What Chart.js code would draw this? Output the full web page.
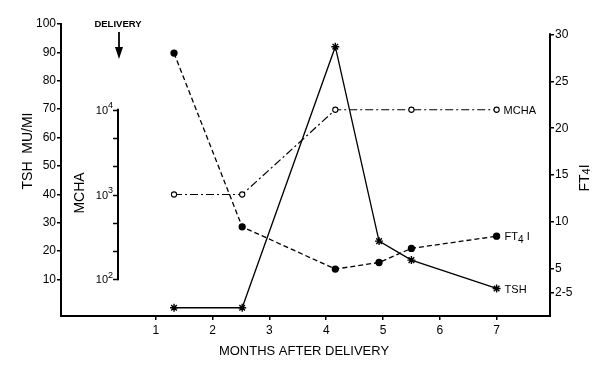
<!DOCTYPE html>
<html>
<head>
<meta charset="utf-8">
<script src="https://cdn.jsdelivr.net/npm/chart.js@4.4.1/dist/chart.umd.min.js"></script>
<style>
  html, body { margin: 0; padding: 0; background: #fff; }
  #wrap { width: 601px; height: 376px; }
</style>
</head>
<body>
<div id="wrap"><canvas id="chart"></canvas></div>
<script>
// Values
const months = [1.32, 2.52, 4.16, 4.93, 5.5, 7];
const tshValues = [0, 0, 92, 23.5, 16.8, 6.8];
const ft4iValues = [28, 9.5, 5, 5.7, 7.2, 8.5];
const mchaValues = [1000, 1000, 10000, null, 10000, 10000];

// Tick labels
const monthTicks = [1, 2, 3, 4, 5, 6, 7];
const tshTicks = [10, 20, 30, 40, 50, 60, 70, 80, 90, 100];
const ft4iTicks = [2.5, 5, 10, 15, 20, 25, 30];
const mchaTicks = [100, 215.4, 464.2, 1000, 2154, 4642, 10000];
const mchaLabelled = [100, 1000, 10000];

const FONT = "'Liberation Sans', Arial, sans-serif";
const MCHA_AXIS_AT = 0.33;   // month where the MCHA scale and delivery arrow sit

function toPoints(values) {
    return months.map((m, i) => ({ x: m, y: values[i] }));
}

function fixTicks(list) {
    return function(scale) {
        scale.ticks = list.map(v => ({ value: v }));
    };
}

// Draw text made of parts, some of them raised or lowered
function drawParts(ctx, x, y, parts, align) {
    let total = 0;
    parts.forEach(p => {
        ctx.font = p.font;
        p.w = ctx.measureText(p.text).width;
        total += p.w;
    });
    let cx = align === 'right' ? x - total : (align === 'center' ? x - total / 2 : x);
    ctx.textAlign = 'left';
    parts.forEach(p => {
        ctx.font = p.font;
        ctx.fillText(p.text, cx, y + (p.dy || 0));
        cx += p.w;
    });
}

const extras = {
    id: 'extras',
    afterDraw(chart) {
        const ctx = chart.ctx;
        const area = chart.chartArea;
        const xs = chart.scales.x;
        const y2 = chart.scales.y2;
        const ym = chart.scales.yM;
        ctx.save();
        ctx.fillStyle = '#000';
        ctx.strokeStyle = '#000';

        // right axis line, up to the 30 tick
        ctx.lineWidth = 2;
        ctx.beginPath();
        ctx.moveTo(area.right, y2.getPixelForValue(30) - 1);
        ctx.lineTo(area.right, area.bottom + 1);
        ctx.stroke();

        // MCHA log scale
        const mx = Math.round(xs.getPixelForValue(MCHA_AXIS_AT));
        ctx.lineWidth = 2;
        ctx.beginPath();
        ctx.moveTo(mx, ym.getPixelForValue(10000) - 1);
        ctx.lineTo(mx, ym.getPixelForValue(100) + 1);
        ctx.stroke();
        ctx.lineWidth = 1.5;
        mchaTicks.forEach(v => {
            const py = Math.round(ym.getPixelForValue(v)) + 0.5;
            ctx.beginPath();
            ctx.moveTo(mx - 5, py);
            ctx.lineTo(mx, py);
            ctx.stroke();
        });
        ctx.textBaseline = 'middle';
        mchaLabelled.forEach(v => {
            const py = ym.getPixelForValue(v);
            drawParts(ctx, mx - 5, py + 1, [
                { text: '10', font: '11px ' + FONT },
                { text: String(Math.round(Math.log10(v))), font: '9px ' + FONT, dy: -5 }
            ], 'right');
        });

        // delivery marker
        ctx.font = 'bold 9.5px ' + FONT;
        ctx.textAlign = 'center';
        ctx.fillText('DELIVERY', 118, 24);
        ctx.lineWidth = 1.8;
        ctx.beginPath();
        ctx.moveTo(mx + 1, 32);
        ctx.lineTo(mx + 1, 50);
        ctx.stroke();
        ctx.beginPath();
        ctx.moveTo(mx - 3, 47);
        ctx.lineTo(mx + 5, 47);
        ctx.lineTo(mx + 1, 59);
        ctx.closePath();
        ctx.fill();

        // axis titles
        ctx.textBaseline = 'middle';
        ctx.save();
        ctx.translate(28, 151);
        ctx.rotate(-Math.PI / 2);
        ctx.font = '14px ' + FONT;
        ctx.textAlign = 'center';
        ctx.fillText('TSH  MU/MI', 0, 0);
        ctx.restore();

        ctx.save();
        ctx.translate(80, 193);
        ctx.rotate(-Math.PI / 2);
        ctx.font = '14px ' + FONT;
        ctx.textAlign = 'center';
        ctx.fillText('MCHA', 0, 0);
        ctx.restore();

        ctx.save();
        ctx.translate(585, 178);
        ctx.rotate(-Math.PI / 2);
        drawParts(ctx, 0, 0, [
            { text: 'FT', font: '14px ' + FONT },
            { text: '4', font: '11px ' + FONT, dy: 2 },
            { text: 'I', font: '14px ' + FONT }
        ], 'center');
        ctx.restore();

        ctx.font = '13px ' + FONT;
        ctx.textAlign = 'center';
        ctx.fillText('MONTHS AFTER DELIVERY', 304, 351);

        // series names next to the last points
        const lastOf = i => {
            const pts = chart.getDatasetMeta(i).data;
            return pts[pts.length - 1];
        };
        ctx.textBaseline = 'middle';
        const pT = lastOf(0), pF = lastOf(1), pM = lastOf(2);
        drawParts(ctx, pT.x + 8, pT.y + 1, [{ text: 'TSH', font: '11px ' + FONT }], 'left');
        drawParts(ctx, pF.x + 8, pF.y + 1, [
            { text: 'FT', font: '11px ' + FONT },
            { text: '4', font: '10px ' + FONT, dy: 3 },
            { text: ' I', font: '11px ' + FONT }
        ], 'left');
        drawParts(ctx, pM.x + 7, pM.y + 1, [{ text: 'MCHA', font: '11px ' + FONT }], 'left');

        ctx.restore();
    }
};

const tickFont = { family: FONT, size: 12 };

new Chart(document.getElementById('chart'), {
    type: 'line',
    data: {
        datasets: [
            {
                label: 'TSH',
                data: toPoints(tshValues),
                yAxisID: 'y',
                borderColor: '#000',
                borderWidth: 1.3,
                pointStyle: 'star',
                pointRadius: 4,
                pointBorderWidth: 1.4,
                pointBorderColor: '#000',
                tension: 0
            },
            {
                label: 'FT4I',
                data: toPoints(ft4iValues),
                yAxisID: 'y2',
                borderColor: '#000',
                borderWidth: 1.3,
                borderDash: [5, 3],
                pointStyle: 'circle',
                pointRadius: 3,
                pointBackgroundColor: '#000',
                pointBorderColor: '#000',
                tension: 0
            },
            {
                label: 'MCHA',
                data: toPoints(mchaValues),
                yAxisID: 'yM',
                spanGaps: true,
                borderColor: '#000',
                borderWidth: 1.2,
                borderDash: [8, 3, 2, 3],
                pointStyle: 'circle',
                pointRadius: 2.6,
                pointBorderWidth: 1.1,
                pointBackgroundColor: '#fff',
                pointBorderColor: '#000',
                tension: 0
            }
        ]
    },
    options: {
        responsive: true,
        maintainAspectRatio: false,
        animation: false,
        layout: { padding: { top: 24, left: 0, right: 0, bottom: 0 } },
        plugins: {
            legend: { display: false },
            tooltip: { enabled: false }
        },
        scales: {
            x: {
                type: 'linear',
                min: -0.67,
                max: 7.94,
                afterBuildTicks: fixTicks(monthTicks),
                afterFit: s => { s.height = 60; },
                grid: { drawOnChartArea: false, tickLength: 4, color: '#000', lineWidth: 1.5 },
                border: { color: '#000', width: 2 },
                ticks: { color: '#000', font: tickFont, padding: 3, maxRotation: 0 }
            },
            y: {
                position: 'left',
                min: -2.9,
                max: 100,
                afterBuildTicks: fixTicks(tshTicks),
                afterFit: s => { s.width = 61; },
                grid: { drawOnChartArea: false, tickLength: 4, color: '#000', lineWidth: 1.5 },
                border: { color: '#000', width: 2 },
                ticks: { color: '#000', font: tickFont, padding: 1 }
            },
            y2: {
                position: 'right',
                min: 0,
                max: 31.1,
                afterBuildTicks: fixTicks(ft4iTicks),
                afterFit: s => { s.width = 51; },
                grid: { drawOnChartArea: false, tickLength: 4, color: '#000', lineWidth: 1.5 },
                border: { display: false },
                ticks: {
                    color: '#000',
                    font: tickFont,
                    padding: 1,
                    callback: v => (v === 2.5 ? '2-5' : String(v))
                }
            },
            yM: {
                type: 'logarithmic',
                display: false,
                min: 36.9,
                max: 102600
            }
        }
    },
    plugins: [extras]
});
</script>
</body>
</html>
